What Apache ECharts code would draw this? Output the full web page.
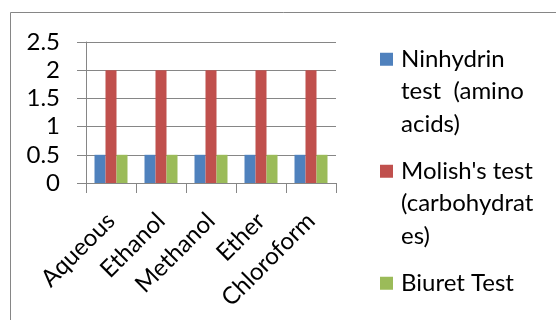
<!DOCTYPE html>
<html>
<head>
<meta charset="utf-8">
<script src="https://cdn.jsdelivr.net/npm/echarts@6/dist/echarts.min.js"></script>
<style>
  html, body { margin: 0; padding: 0; background: #fff; }
  #chart { width: 556px; height: 320px; }
</style>
</head>
<body>
<div id="chart"></div>
<script>
// Solvent extracts tested
const categories = ['Aqueous', 'Ethanol', 'Methanol', 'Ether', 'Chloroform'];

// Test scores per extract
const ninhydrin = [0.5, 0.5, 0.5, 0.5, 0.5];
const molish = [2, 2, 2, 2, 2];
const biuret = [0.5, 0.5, 0.5, 0.5, 0.5];

const seriesNames = ['Ninhydrin test  (amino acids)', "Molish's test (carbohydrates)", 'Biuret Test'];
// Wrapped legend text, one entry per line
const legendLines = [
  ['Ninhydrin', 'test  (amino', 'acids)'],
  ["Molish's test", '(carbohydrat', 'es)'],
  ['Biuret Test']
];
const colors = ['#4F81BD', '#C0504D', '#9BBB59'];

const yTicks = { min: 0, max: 2.5, interval: 0.5 };

const FONT = 'Lato';
const GRAY = '#868686';

const chart = echarts.init(document.getElementById('chart'), null, { renderer: 'canvas' });

const rich = { t: { fontFamily: FONT, fontSize: 24, color: '#000', lineHeight: 32.5 },
               pad: { width: 21, height: 13 },
               gap: { width: 8 } };
colors.forEach((c, i) => {
  rich['sq' + i] = { width: 13, height: 13, backgroundColor: c };
});

chart.setOption({
  animation: false,
  textStyle: { fontFamily: FONT },
  graphic: [{
    type: 'rect',
    shape: { x: 10.5, y: 12.5, width: 700, height: 500 },
    style: { fill: 'none', stroke: GRAY, lineWidth: 1 },
    silent: true
  }],
  grid: { left: 86, right: 220, top: 42, bottom: 137, containLabel: false },
  legend: {
    orient: 'vertical',
    left: 370,
    top: 38,
    itemGap: 14.5,
    icon: 'none',
    itemWidth: 0,
    itemHeight: 0,
    data: seriesNames,
    formatter: function (name) {
      const i = seriesNames.indexOf(name);
      return legendLines[i].map((ln, k) =>
        (k === 0 ? '{sq' + i + '|}{gap|}' : '{pad|}') + '{t|' + ln + '}'
      ).join('\n');
    },
    textStyle: { rich: rich, lineHeight: 32.5 }
  },
  xAxis: {
    type: 'category',
    data: categories,
    boundaryGap: true,
    axisLine: { show: true, lineStyle: { color: GRAY, width: 1 } },
    axisTick: { show: true, length: 10, alignWithLabel: false, lineStyle: { color: GRAY } },
    axisLabel: { interval: 0, rotate: 45, margin: 34, fontFamily: FONT, fontSize: 24, color: '#000' }
  },
  yAxis: {
    type: 'value',
    min: yTicks.min,
    max: yTicks.max,
    interval: yTicks.interval,
    axisLine: { show: true, lineStyle: { color: GRAY, width: 1 } },
    axisTick: { show: true, length: 9, lineStyle: { color: GRAY } },
    splitLine: { show: true, lineStyle: { color: GRAY, width: 1 } },
    axisLabel: { margin: 26, fontFamily: FONT, fontSize: 24, color: '#000' }
  },
  series: [
    { name: seriesNames[0], type: 'bar', data: ninhydrin, barWidth: 11, barGap: '0%', itemStyle: { color: colors[0] } },
    { name: seriesNames[1], type: 'bar', data: molish, barWidth: 11, barGap: '0%', itemStyle: { color: colors[1] } },
    { name: seriesNames[2], type: 'bar', data: biuret, barWidth: 11, barGap: '0%', itemStyle: { color: colors[2] } }
  ]
});
</script>
</body>
</html>
